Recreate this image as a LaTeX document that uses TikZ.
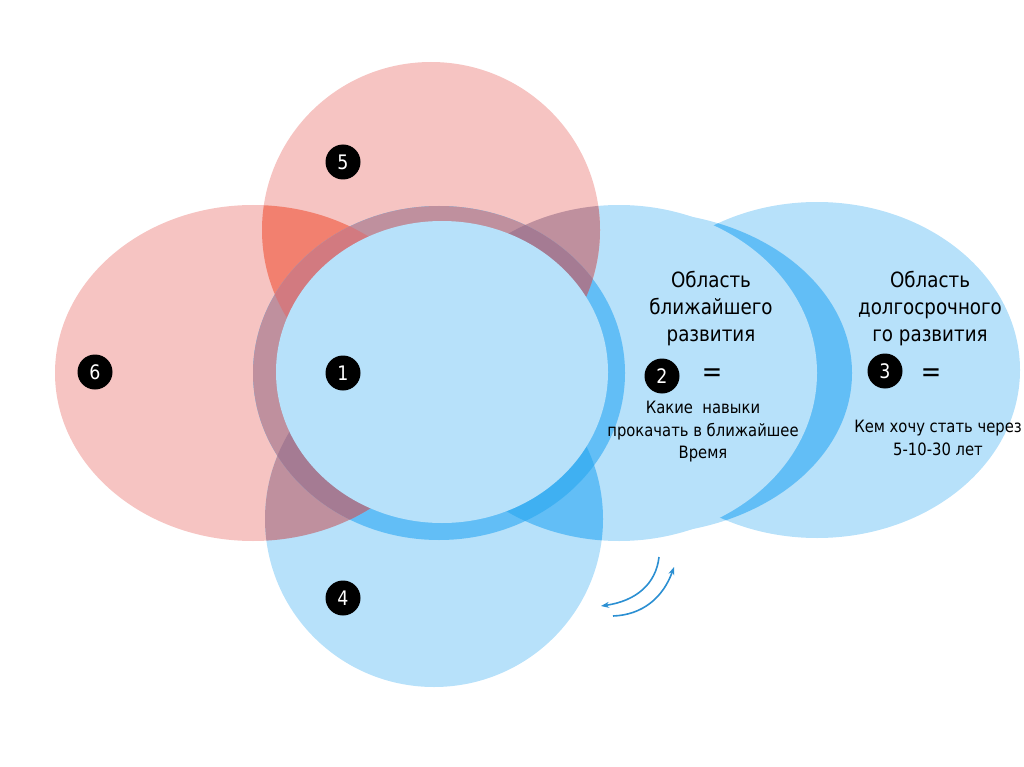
\documentclass[tikz,border=0pt]{standalone}
\usepackage{fontspec}
\setmainfont{DejaVu Sans}[FakeStretch=0.87]
\usetikzlibrary{arrows.meta}
\definecolor{lblue}{HTML}{B7E1FA}
\definecolor{bblue}{HTML}{62BEF6}
\definecolor{dblue}{HTML}{3FB0F2}
\definecolor{lred}{HTML}{F6C4C2}
\definecolor{sred}{HTML}{F2806F}
\definecolor{mauve}{HTML}{BF909E}
\definecolor{dmauve}{HTML}{A57B93}
\definecolor{rmauve}{HTML}{D27A80}
\definecolor{arrblue}{HTML}{2B8FD2}
% outlines of the ellipses (pixel units)
\newcommand{\eThree}{(817,370) ellipse [x radius=203, y radius=168]}
\newcommand{\eTwoOut}{(640,373) ellipse [x radius=212, y radius=161]}
\newcommand{\eTwo}{(619,373) ellipse [x radius=198, y radius=168]}
\newcommand{\eSix}{(253,373) ellipse [x radius=198, y radius=168]}
\newcommand{\eFive}{(431,230) ellipse [x radius=169, y radius=168]}
\newcommand{\eFour}{(434,519) ellipse [x radius=169, y radius=168]}
\newcommand{\eRing}{(439,373) ellipse [x radius=186, y radius=167]}
\newcommand{\eOne}{(442,372) ellipse [x radius=166, y radius=151]}
\tikzset{
  numdot/.style  = {circle, fill=black, text=white, inner sep=0pt,
                    minimum size=35pt, font=\fontsize{20}{20}\selectfont},
  headtxt/.style = {align=center, font=\fontsize{21}{27}\selectfont},
  bodytxt/.style = {align=center, font=\fontsize{17}{22.5}\selectfont},
  eqsign/.style  = {inner sep=0pt, font=\fontsize{28}{28}\selectfont},
  turnar/.style  = {-{Stealth[length=8pt,width=6pt]}, arrblue, line width=1.6pt}
}

\begin{document}
\begin{tikzpicture}[x=1pt, y=-1pt]
  \useasboundingbox (0,0) rectangle (1024,767);
  % right-hand ellipses
  \fill[lblue] \eThree;
  \fill[lblue] \eTwoOut;
  \begin{scope}
    \clip \eThree;
    \fill[bblue] \eTwoOut;
  \end{scope}
  \fill[lblue] \eTwo;
  % red and lower ellipses
  \fill[lred] \eSix;
  \fill[lred] \eFive;
  \fill[lblue] \eFour;
  \begin{scope}
    \clip \eFive;
    \fill[sred] \eSix;
    \fill[mauve] \eTwo;
  \end{scope}
  \begin{scope}
    \clip \eFour;
    \fill[mauve] \eSix;
    \fill[bblue] \eTwo;
  \end{scope}
  % ring of the central circle
  \fill[bblue] \eRing;
  \begin{scope}
    \clip \eRing;
    \fill[mauve] \eSix;
    \fill[mauve] \eFive;
    \begin{scope}
      \clip \eFive;
      \fill[rmauve] \eSix;
      \fill[dmauve] \eTwo;
    \end{scope}
    \begin{scope}
      \clip \eFour;
      \fill[dmauve] \eSix;
      \fill[dblue] \eTwo;
    \end{scope}
  \end{scope}
  \fill[lblue] \eOne;

  % numbers
  \node[numdot] (n5) at (343,162) {5};
  \node[numdot] (n6) at (95,372)  {6};
  \node[numdot] (n1) at (343,373) {1};
  \node[numdot] (n4) at (343,598) {4};
  \node[numdot] (n2) at (662,376) {2};
  \node[numdot] (n3) at (885,371) {3};

  % texts
  \node[headtxt] (h2) at (711,309) {Область\\ближайшего\\развития};
  \node[headtxt] (h3) at (930,309) {Область\\долгосрочного\\го развития};
  \node[eqsign] (q2) at (712,375) {=};
  \node[eqsign] (q3) at (931,375) {=};
  \node[bodytxt] (b2) at (703,432) {Какие\ \ навыки\\прокачать в ближайшее\\Время};
  \node[bodytxt] (b3) at (938,438) {Кем хочу стать через\\5-10-30 лет};

  % turning arrows
  \coordinate (a1s) at (659,557);
  \coordinate (a1e) at (601,606);
  \coordinate (a2s) at (613,616);
  \coordinate (a2e) at (674,567);
  \draw[turnar] (a1s) .. controls (656,584) and (636,601) .. (a1e);
  \draw[turnar] (a2s) .. controls (642,615) and (663,598) .. (a2e);
\end{tikzpicture}
\end{document}
